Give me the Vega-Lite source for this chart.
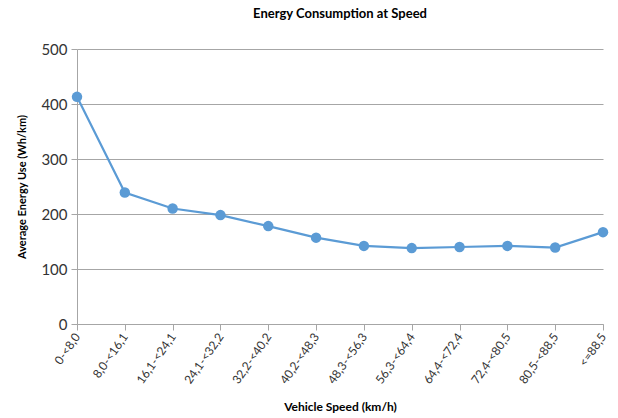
{
  "$schema": "https://vega.github.io/schema/vega-lite/v6.json",
  "autosize": "none",
  "width": 526,
  "height": 275,
  "padding": {"left": 77, "top": 49, "right": 15, "bottom": 94},
  "background": "white",
  "config": {"view": {"stroke": null}, "font": "Lato"},
  "title": {"text": "Energy Consumption at Speed", "fontSize": 13, "fontWeight": "bold", "color": "#000000", "offset": 21, "anchor": "middle"},
  "data": {"values": [
    {"speed": "0-<8,0", "energy": 413},
    {"speed": "8,0-<16,1", "energy": 239},
    {"speed": "16,1-<24,1", "energy": 210},
    {"speed": "24,1-<32,2", "energy": 198},
    {"speed": "32,2-<40,2", "energy": 178},
    {"speed": "40,2-<48,3", "energy": 157},
    {"speed": "48,3-<56,3", "energy": 142},
    {"speed": "56,3-<64,4", "energy": 138},
    {"speed": "64,4-<72,4", "energy": 140},
    {"speed": "72,4-<80,5", "energy": 142},
    {"speed": "80,5-<88,5", "energy": 139},
    {"speed": "<=88,5", "energy": 167}
  ]},
  "encoding": {
    "x": {"field": "speed", "type": "ordinal", "sort": null,
      "scale": {"type": "point", "padding": 0},
      "axis": {"title": "Vehicle Speed (km/h)", "titleFontSize": 12, "titleFontWeight": "bold", "titleColor": "#000", "titlePadding": 16,
        "labelAngle": -55, "labelAlign": "right", "labelBaseline": "middle", "labelFontSize": 12, "labelColor": "#333", "labelPadding": 4,
        "domainColor": "#a6a6a6", "tickColor": "#a6a6a6", "tickSize": 6, "grid": false}},
    "y": {"field": "energy", "type": "quantitative",
      "scale": {"domain": [0, 500], "nice": false},
      "axis": {"title": "Average Energy Use (Wh/km)", "titleFontSize": 11, "titleFontWeight": "bold", "titleColor": "#000", "titlePadding": 13,
        "values": [0, 100, 200, 300, 400, 500], "labelFontSize": 15, "labelColor": "#333", "labelPadding": 4,
        "domainColor": "#a6a6a6", "tickColor": "#a6a6a6", "tickSize": 6, "gridColor": "#a6a6a6", "gridWidth": 1}}
  },
  "layer": [
    {"mark": {"type": "line", "color": "#5b9bd5", "strokeWidth": 2.2}},
    {"mark": {"type": "point", "filled": true, "color": "#5b9bd5", "opacity": 1, "size": 110}}
  ]
}
